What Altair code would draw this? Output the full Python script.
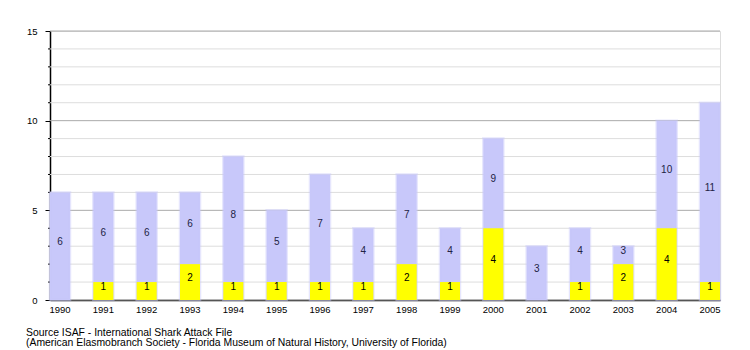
import altair as alt
import pandas as pd

years = ["1990", "1991", "1992", "1993", "1994", "1995", "1996", "1997",
         "1998", "1999", "2000", "2001", "2002", "2003", "2004", "2005"]
totals = [6, 6, 6, 6, 8, 5, 7, 4, 7, 4, 9, 3, 4, 3, 10, 11]
fatal = [0, 1, 1, 2, 1, 1, 1, 1, 2, 1, 4, 0, 1, 2, 4, 1]
major_ticks = [0, 5, 10, 15]
minor_ticks = [1, 2, 3, 4, 6, 7, 8, 9, 11, 12, 13, 14]
source_lines = ["Source ISAF - International Shark Attack File",
                "(American Elasmobranch Society - Florida Museum of Natural History, University of Florida)"]

df = pd.DataFrame({"year": years, "total": totals, "fatal": fatal})
df["mid_total"] = (df["total"] + df["fatal"]) / 2
df["mid_fatal"] = df["fatal"] / 2
minor_df = pd.DataFrame({"v": minor_ticks})
major_df = pd.DataFrame({"v": major_ticks})

FONT = "Liberation Sans"

yscale = alt.Scale(domain=[0, 15], nice=False, zero=True)
yaxis = alt.Axis(values=major_ticks, grid=False, tickSize=5, tickColor="#000",
                 domainColor="#000", domainWidth=1.5, title=None,
                 labelFontSize=9.5, labelColor="#000", labelPadding=8, labelFont=FONT)


def Y(field):
    return alt.Y(field, scale=yscale, axis=yaxis, title=None)


x = alt.X("year:N", title=None, sort=years,
          scale=alt.Scale(paddingInner=0.538, paddingOuter=0),
          axis=alt.Axis(labelAngle=0, ticks=False, domainColor="#000", domainWidth=1.5,
                        labelFontSize=9.5, labelColor="#000", labelPadding=4, labelFont=FONT))

minor_grid = alt.Chart(minor_df).mark_rule(color="#dddddd", strokeWidth=1).encode(y=Y("v:Q"))
minor_tick = alt.Chart(minor_df).mark_rule(color="#000", strokeWidth=1).encode(
    y=Y("v:Q"), x=alt.value(-2), x2=alt.value(0)
)
major_grid = alt.Chart(major_df).mark_rule(color="#aaaaaa", strokeWidth=1).encode(y=Y("v:Q"))

base = alt.Chart(df).encode(x=x)

bars_total = base.mark_bar(color="#c8c8fa", stroke="#c8c8fa", strokeOpacity=0.45, strokeWidth=2.5).encode(
    y=Y("total:Q")
)

bars_fatal = base.mark_bar(color="#ffff00").encode(y=Y("fatal:Q"))

text_total = base.mark_text(fontSize=10, font=FONT, color="#222244", dy=-4).encode(
    y=Y("mid_total:Q"),
    text=alt.Text("total:Q")
)

text_fatal = base.transform_filter("datum.fatal > 0").mark_text(
    fontSize=10, font=FONT, color="#000", dy=-4).encode(
    y=Y("mid_fatal:Q"),
    text=alt.Text("fatal:Q")
)

chart = alt.layer(major_grid, minor_grid, minor_tick, bars_total, bars_fatal, text_total, text_fatal).properties(
    width=670, height=269,
    autosize=alt.AutoSizeParams(type="none"),
    padding={"left": 50, "top": 31, "right": 30, "bottom": 50},
    title=alt.TitleParams(text=source_lines, orient="bottom", anchor="start",
                          frame="group", dx=-24, offset=14, fontSize=10.4,
                          fontWeight="normal", font=FONT, color="#000", lineHeight=10)
).configure_view(strokeWidth=0).configure(background="white")

chart.save("out.html", embed_options={"renderer": "svg", "actions": False})
